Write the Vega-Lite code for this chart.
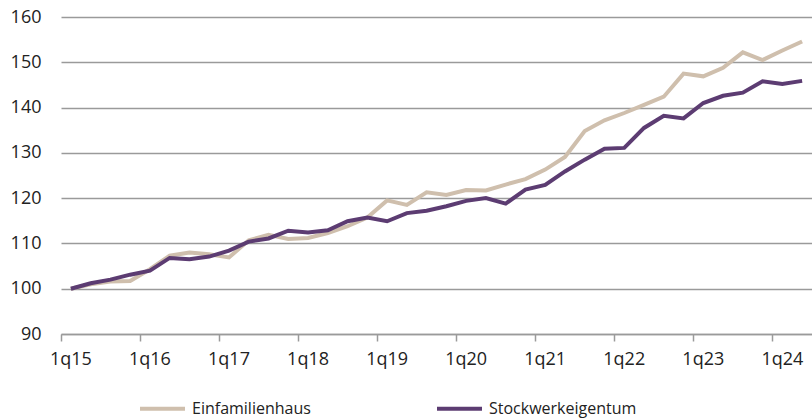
{
  "$schema": "https://vega.github.io/schema/vega-lite/v6.json",
  "autosize": "none",
  "width": 751,
  "height": 317,
  "padding": {"left": 61, "top": 17, "right": 0, "bottom": 84},
  "background": "white",
  "config": {
    "view": {"stroke": null},
    "font": "Open Sans",
    "axis": {"labelFont": "Open Sans", "labelFontSize": 18, "labelColor": "#222222"},
    "legend": {"labelFont": "Open Sans", "labelFontSize": 16, "labelColor": "#222222"}
  },
  "data": {
    "values": [
      {"q": "1q15", "Einfamilienhaus": 100.0, "Stockwerkeigentum": 100.0},
      {"q": "2q15", "Einfamilienhaus": 101.0, "Stockwerkeigentum": 101.2},
      {"q": "3q15", "Einfamilienhaus": 101.6, "Stockwerkeigentum": 102.0},
      {"q": "4q15", "Einfamilienhaus": 101.7, "Stockwerkeigentum": 103.1},
      {"q": "1q16", "Einfamilienhaus": 104.3, "Stockwerkeigentum": 104.0},
      {"q": "2q16", "Einfamilienhaus": 107.3, "Stockwerkeigentum": 106.8},
      {"q": "3q16", "Einfamilienhaus": 108.0, "Stockwerkeigentum": 106.5},
      {"q": "4q16", "Einfamilienhaus": 107.6, "Stockwerkeigentum": 107.1},
      {"q": "1q17", "Einfamilienhaus": 106.9, "Stockwerkeigentum": 108.4},
      {"q": "2q17", "Einfamilienhaus": 110.7, "Stockwerkeigentum": 110.4},
      {"q": "3q17", "Einfamilienhaus": 111.9, "Stockwerkeigentum": 111.1},
      {"q": "4q17", "Einfamilienhaus": 111.0, "Stockwerkeigentum": 112.8},
      {"q": "1q18", "Einfamilienhaus": 111.2, "Stockwerkeigentum": 112.4},
      {"q": "2q18", "Einfamilienhaus": 112.3, "Stockwerkeigentum": 112.9},
      {"q": "3q18", "Einfamilienhaus": 113.8, "Stockwerkeigentum": 114.9},
      {"q": "4q18", "Einfamilienhaus": 115.7, "Stockwerkeigentum": 115.7},
      {"q": "1q19", "Einfamilienhaus": 119.5, "Stockwerkeigentum": 114.9},
      {"q": "2q19", "Einfamilienhaus": 118.5, "Stockwerkeigentum": 116.7},
      {"q": "3q19", "Einfamilienhaus": 121.3, "Stockwerkeigentum": 117.2},
      {"q": "4q19", "Einfamilienhaus": 120.7, "Stockwerkeigentum": 118.2},
      {"q": "1q20", "Einfamilienhaus": 121.8, "Stockwerkeigentum": 119.4},
      {"q": "2q20", "Einfamilienhaus": 121.7, "Stockwerkeigentum": 120.0},
      {"q": "3q20", "Einfamilienhaus": 123.0, "Stockwerkeigentum": 118.8},
      {"q": "4q20", "Einfamilienhaus": 124.2, "Stockwerkeigentum": 121.9},
      {"q": "1q21", "Einfamilienhaus": 126.3, "Stockwerkeigentum": 122.9},
      {"q": "2q21", "Einfamilienhaus": 129.1, "Stockwerkeigentum": 125.9},
      {"q": "3q21", "Einfamilienhaus": 134.8, "Stockwerkeigentum": 128.5},
      {"q": "4q21", "Einfamilienhaus": 137.2, "Stockwerkeigentum": 130.9},
      {"q": "1q22", "Einfamilienhaus": 138.8, "Stockwerkeigentum": 131.1},
      {"q": "2q22", "Einfamilienhaus": 140.6, "Stockwerkeigentum": 135.5},
      {"q": "3q22", "Einfamilienhaus": 142.4, "Stockwerkeigentum": 138.2},
      {"q": "4q22", "Einfamilienhaus": 147.5, "Stockwerkeigentum": 137.6},
      {"q": "1q23", "Einfamilienhaus": 146.9, "Stockwerkeigentum": 141.0},
      {"q": "2q23", "Einfamilienhaus": 148.8, "Stockwerkeigentum": 142.6},
      {"q": "3q23", "Einfamilienhaus": 152.2, "Stockwerkeigentum": 143.3},
      {"q": "4q23", "Einfamilienhaus": 150.5, "Stockwerkeigentum": 145.8},
      {"q": "1q24", "Einfamilienhaus": 152.6, "Stockwerkeigentum": 145.2},
      {"q": "2q24", "Einfamilienhaus": 154.6, "Stockwerkeigentum": 145.9}
    ]
  },
  "transform": [
    {"fold": ["Einfamilienhaus", "Stockwerkeigentum"], "as": ["series", "value"]}
  ],
  "mark": {"type": "line", "strokeWidth": 4, "interpolate": "linear", "strokeJoin": "miter"},
  "encoding": {
    "x": {
      "field": "q",
      "type": "ordinal",
      "sort": null,
      "bandPosition": 0.5,
      "scale": {"type": "band", "paddingInner": 0, "paddingOuter": 0},
      "axis": {
        "title": null,
        "values": ["1q15", "1q16", "1q17", "1q18", "1q19", "1q20", "1q21", "1q22", "1q23", "1q24"],
        "bandPosition": 0,
        "labelAngle": 0,
        "domainColor": "#9a9a9a",
        "domainWidth": 1.5,
        "tickColor": "#9a9a9a",
        "tickWidth": 1.5,
        "tickSize": 7,
        "labelPadding": 9,
        "grid": false
      }
    },
    "y": {
      "field": "value",
      "type": "quantitative",
      "scale": {"domain": [90, 160], "nice": false, "zero": false},
      "axis": {
        "title": null,
        "values": [90, 100, 110, 120, 130, 140, 150, 160],
        "domain": false,
        "ticks": false,
        "labelPadding": 20,
        "grid": true,
        "gridColor": "#9a9a9a",
        "gridWidth": 1.5
      }
    },
    "color": {
      "field": "series",
      "type": "nominal",
      "scale": {"domain": ["Einfamilienhaus", "Stockwerkeigentum"], "range": ["#cfbfad", "#5c3c72"]},
      "legend": {
        "title": null,
        "orient": "none",
        "direction": "horizontal",
        "legendX": 77,
        "legendY": 367,
        "symbolType": "stroke",
        "symbolSize": 2025,
        "symbolStrokeWidth": 4,
        "labelOffset": 5,
        "columnPadding": 118,
        "padding": 0
      }
    }
  }
}
